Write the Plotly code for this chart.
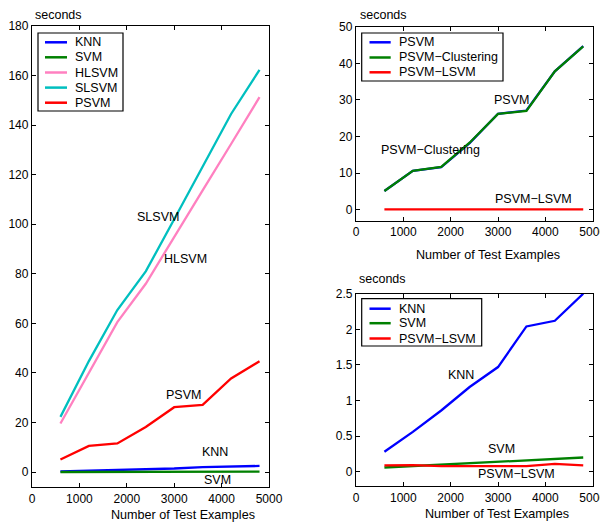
import plotly.graph_objects as go

# The page body has an 8px default margin, so the figure is drawn 8px in
# from the window's top-left corner; size and positions compensate for that.
OFF = 8
W, H = 608 - OFF, 524 - OFF

# ---------------- data ----------------
n_examples = [600, 1200, 1800, 2400, 3000, 3600, 4200, 4800]
knn = [0.28, 0.56, 0.86, 1.19, 1.47, 2.04, 2.12, 2.50]
svm = [0.06, 0.08, 0.10, 0.11, 0.14, 0.15, 0.18, 0.20]
hlsvm = [19.6, 39.8, 60.5, 76.0, 95.0, 113.7, 132.4, 151.3]
slsvm = [22.3, 44.8, 65.4, 81.0, 102.0, 123.0, 144.5, 162.3]
psvm = [5.1, 10.6, 11.6, 18.2, 26.2, 27.1, 37.8, 44.7]
psvm_clustering = [5.1, 10.6, 11.7, 18.3, 26.2, 27.0, 37.8, 44.6]
psvm_lsvm = [0.09, 0.093, 0.08, 0.075, 0.08, 0.08, 0.11, 0.09]

x_ticks = [0, 1000, 2000, 3000, 4000, 5000]
y1_ticks = [0, 20, 40, 60, 80, 100, 120, 140, 160, 180]
y2_ticks = [0, 10, 20, 30, 40, 50]
y3_ticks = [0, 0.5, 1, 1.5, 2, 2.5]

BLUE = "#0000ff"
GREEN = "#008000"
PINK = "#ff80c0"
CYAN = "#00bfbf"
RED = "#ff0000"
FONT = "Liberation Sans, Arial, Helvetica, sans-serif"
FS = 12      # tick labels
TFS = 12.5   # other texts


def px(x):
    return (x - OFF) / W


def py(y):
    return 1 - (y - OFF) / H


fig = go.Figure()


def add_line(x, y, color, name, xa, ya):
    fig.add_trace(go.Scatter(x=x, y=y, mode="lines", name=name,
                             line=dict(color=color, width=2.3),
                             xaxis=xa, yaxis=ya, showlegend=False))


# left panel
add_line(n_examples, knn, BLUE, "KNN", "x", "y")
add_line(n_examples, svm, GREEN, "SVM", "x", "y")
add_line(n_examples, hlsvm, PINK, "HLSVM", "x", "y")
add_line(n_examples, slsvm, CYAN, "SLSVM", "x", "y")
add_line(n_examples, psvm, RED, "PSVM", "x", "y")
# top right
add_line(n_examples, psvm, BLUE, "PSVM", "x2", "y2")
add_line(n_examples, psvm_clustering, GREEN, "PSVM-Clustering", "x2", "y2")
add_line(n_examples, psvm_lsvm, RED, "PSVM-LSVM", "x2", "y2")
# bottom right
add_line(n_examples, knn, BLUE, "KNN", "x3", "y3")
add_line(n_examples, svm, GREEN, "SVM", "x3", "y3")
add_line(n_examples, psvm_lsvm, RED, "PSVM-LSVM", "x3", "y3")


def axis_style(domain, rng, tickvals, anchor):
    return dict(domain=domain, range=rng, tickvals=tickvals, anchor=anchor,
                automargin=False,
                showline=True, linecolor="black", linewidth=1.3, mirror="ticks",
                ticks="inside", ticklen=4, tickcolor="black", tickwidth=1,
                showgrid=False, zeroline=False,
                tickfont=dict(family=FONT, size=FS, color="black"))


layout = dict(
    width=W, height=H, autosize=False,
    margin=dict(l=0, r=0, t=0, b=0, autoexpand=False),
    paper_bgcolor="white", plot_bgcolor="white",
    font=dict(family=FONT, size=FS, color="black"),
    showlegend=False,
    xaxis=axis_style([px(32), px(269)], [0, 5000], x_ticks, "y"),
    yaxis=axis_style([py(487), py(26)], [-6, 180], y1_ticks, "x"),
    xaxis2=axis_style([px(356), px(592.7)], [0, 5000], x_ticks, "y2"),
    yaxis2=axis_style([py(220.7), py(26.7)], [-3, 50], y2_ticks, "x2"),
    xaxis3=axis_style([px(356), px(592.7)], [0, 5000], x_ticks, "y3"),
    yaxis3=axis_style([py(486), py(293.7)], [-0.2, 2.5], y3_ticks, "x3"),
)
fig.update_layout(**layout)

annotations = []
shapes = []


def paper_text(text, x, y, xanchor="left", yanchor="middle", size=TFS):
    annotations.append(dict(text=text, x=px(x), y=py(y), xref="paper", yref="paper",
                            xanchor=xanchor, yanchor=yanchor, showarrow=False,
                            font=dict(family=FONT, size=size, color="black")))


def data_text(text, x, y, xa, ya):
    annotations.append(dict(text=text, x=x, y=y, xref=xa, yref=ya,
                            xanchor="left", yanchor="middle", showarrow=False,
                            font=dict(family=FONT, size=TFS, color="black")))


# axis labels / units
paper_text("seconds", 33, 15)
paper_text("seconds", 358, 15)
paper_text("seconds", 357, 279)
paper_text("Number of Test Examples", 182.5, 515, xanchor="center", size=12.6)
paper_text("Number of Test Examples", 488, 255, xanchor="center", size=12.6)
paper_text("Number of Test Examples", 496.5, 514, xanchor="center", size=12.6)

# in-plot labels
data_text("SLSVM", 2180, 103, "x", "y")
data_text("HLSVM", 2750, 86, "x", "y")
data_text("PSVM", 2790, 31, "x", "y")
data_text("KNN", 3550, 8.2, "x", "y")
data_text("SVM", 3585, -3.2, "x", "y")
data_text("PSVM\u2212Clustering", 490, 16.2, "x2", "y2")
data_text("PSVM", 2880, 29.9, "x2", "y2")
data_text("PSVM\u2212LSVM", 2900, 2.9, "x2", "y2")
data_text("KNN", 1895, 1.36, "x3", "y3")
data_text("SVM", 2740, 0.32, "x3", "y3")
data_text("PSVM\u2212LSVM", 2530, -0.03, "x3", "y3")


def legend_box(x0, y0, x1, y1, entries, lx0, lx1, tx, rows):
    shapes.append(dict(type="rect", xref="paper", yref="paper",
                       x0=px(x0), x1=px(x1), y0=py(y1), y1=py(y0),
                       line=dict(color="black", width=1.2), fillcolor="white",
                       layer="above"))
    for (label, color), ry in zip(entries, rows):
        shapes.append(dict(type="line", xref="paper", yref="paper",
                           x0=px(lx0), x1=px(lx1), y0=py(ry), y1=py(ry),
                           line=dict(color=color, width=2.5), layer="above"))
        paper_text(label, tx, ry)


legend_box(38, 33, 123, 111,
           [("KNN", BLUE), ("SVM", GREEN), ("HLSVM", PINK), ("SLSVM", CYAN), ("PSVM", RED)],
           45, 67, 73, [42.3, 57.3, 72.5, 87.6, 102.7])
legend_box(361.7, 33, 503, 81,
           [("PSVM", BLUE), ("PSVM\u2212Clustering", GREEN), ("PSVM\u2212LSVM", RED)],
           369.5, 390.7, 397.3, [42.3, 57.5, 72.3])
legend_box(361.7, 298.7, 481.7, 346,
           [("KNN", BLUE), ("SVM", GREEN), ("PSVM\u2212LSVM", RED)],
           369.5, 390.7, 397.3, [308.7, 323.2, 338.5])

fig.update_layout(annotations=annotations, shapes=shapes)

fig.write_html("out.html")
